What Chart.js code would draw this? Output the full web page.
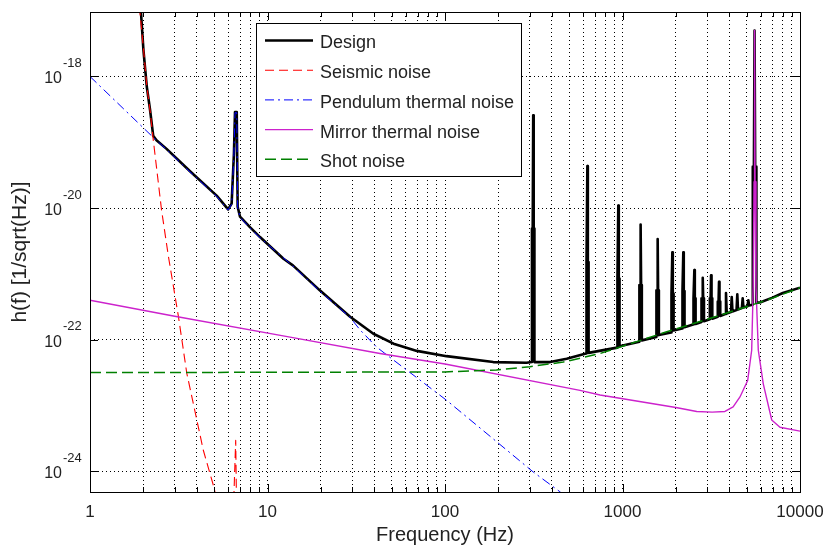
<!DOCTYPE html>
<html>
<head>
<meta charset="utf-8">
<script src="https://cdn.jsdelivr.net/npm/chart.js@4.4.1/dist/chart.umd.min.js"></script>
<style>
  html, body { margin: 0; padding: 0; background: #ffffff; }
  #wrap { width: 826px; height: 550px; }
</style>
</head>
<body>
<div id="wrap"><canvas id="c" width="826" height="550"></canvas></div>
<script>
// ---------------- data (frequency in Hz, value given as exponent of 10 for h(f) in 1/sqrt(Hz)) ----------------
const seriesLabels = ['Design', 'Seismic noise', 'Pendulum thermal noise', 'Mirror thermal noise', 'Shot noise'];

const designFreq = [
  1.85, 1.94, 2.0, 2.09, 2.18, 2.27, 2.37, 2.7, 3.66, 5.17,
  6.0, 6.28, 6.47, 6.56, 6.71, 6.79, 7.0, 7.96, 9.07, 12.3,
  13.9, 19.7, 29.2, 39.5, 51.3, 69.4, 102, 187, 288,
  309, 309, 312, 314, 316, 319, 319,
  391, 485, 601,
  624, 624, 630, 634, 638, 644, 644,
  932, 932, 941, 947, 953, 962, 962,
  1245, 1245, 1257, 1265, 1273, 1285, 1285,
  1553, 1553, 1569, 1578, 1587, 1603, 1603,
  1878, 1878, 1898, 1909, 1920, 1940, 1940,
  2166, 2166, 2188, 2201, 2214, 2236, 2236,
  2499, 2499, 2525, 2540, 2555, 2581, 2581,
  2787, 2787, 2815, 2832, 2849, 2877, 2877,
  3105, 3105, 3136, 3155, 3174, 3205, 3205,
  3442, 3442, 3477, 3498, 3519, 3554, 3554,
  3790, 3829, 3865,
  4085, 4124, 4165,
  4390, 4434, 4475,
  4705, 4754, 4800,
  5065, 5117, 5165,
  5420, 5420, 5500, 5546, 5590, 5680, 5680,
  6000, 7000, 8000, 10000
];
const designExp = [
  -16.6, -17.05, -17.6, -18.16, -18.51, -18.9, -18.97, -19.1, -19.44, -19.81,
  -20.02, -19.93, -19.17, -18.54, -18.54, -19.98, -20.13, -20.29, -20.44, -20.77,
  -20.87, -21.25, -21.65, -21.91, -22.06, -22.17, -22.25, -22.34, -22.35,
  -22.34, -20.31, -20.31, -18.59, -20.31, -20.31, -22.34,
  -22.34, -22.29, -22.22,
  -22.21, -20.82, -20.82, -19.36, -20.82, -20.82, -22.2,
  -22.12, -21.07, -21.07, -19.96, -21.07, -21.07, -22.1,
  -22.03, -21.17, -21.17, -20.25, -21.17, -21.17, -22.01,
  -21.96, -21.25, -21.25, -20.47, -21.25, -21.25, -21.93,
  -21.89, -21.3, -21.3, -20.67, -21.3, -21.3, -21.86,
  -21.83, -21.26, -21.26, -20.67, -21.26, -21.26, -21.81,
  -21.77, -21.37, -21.37, -20.94, -21.37, -21.37, -21.76,
  -21.73, -21.37, -21.37, -21.06, -21.37, -21.37, -21.72,
  -21.69, -21.37, -21.37, -21.02, -21.37, -21.37, -21.68,
  -21.65, -21.42, -21.42, -21.12, -21.42, -21.42, -21.64,
  -21.61, -21.29, -21.6,
  -21.58, -21.35, -21.57,
  -21.55, -21.31, -21.54,
  -21.52, -21.37, -21.51,
  -21.49, -21.4, -21.48,
  -21.47, -19.37, -19.37, -17.3, -19.37, -19.37, -21.44,
  -21.43, -21.36, -21.29, -21.21
];

const seismicFreq = [1.85, 1.91, 2.0, 2.09, 2.18, 2.26, 2.53, 2.76, 3.15, 3.51, 4.35, 5.0, 5.6, 6.3, 6.62, 6.75, 7.5];
const seismicExp  = [-16.3, -17.02, -17.57, -18.15, -18.52, -18.91, -20.03, -20.72, -21.65, -22.51, -23.68, -24.25, -24.9, -25.3, -23.53, -25.3, -26.5];

const pendFreq = [1, 2.26, 2.7, 3.66, 5.17, 6.0, 6.28, 6.47, 6.56, 6.71, 6.79, 7.0, 7.96, 9.07, 13.9, 19.7, 29.2, 33.2, 41.1, 51.3, 72, 102, 314, 444, 600];
const pendExp  = [-18.0, -18.92, -19.11, -19.45, -19.82, -20.03, -19.94, -19.18, -18.55, -18.55, -19.99, -20.14, -20.3, -20.45, -20.88, -21.26, -21.66, -21.85, -22.11, -22.31, -22.61, -22.92, -24.01, -24.31, -24.65];

const mirrorFreq = [1, 2.95, 13.4, 43, 100, 576, 747, 2000, 2619, 3200, 3778, 4200, 4590, 5072, 5343, 5450, 5510, 5546, 5580, 5650, 5822, 6210, 6930, 7710, 10000];
const mirrorExp  = [-21.4, -21.64, -21.96, -22.21, -22.37, -22.77, -22.84, -23.03, -23.09, -23.1, -23.09, -23.02, -22.87, -22.62, -22.16, -21.2, -19.6, -17.3, -19.6, -21.2, -22.16, -22.67, -23.22, -23.33, -23.39];

const shotFreq = [1, 100, 150, 195, 301, 464, 747, 1000, 1774, 3000, 6490, 10000];
const shotExp  = [-22.5, -22.49, -22.47, -22.46, -22.41, -22.34, -22.21, -22.1, -21.88, -21.69, -21.4, -21.21];

// axis ticks
const xGridValues = [1,2,3,4,5,6,7,8,9,10,20,30,40,50,60,70,80,90,100,200,300,400,500,600,700,800,900,1000,2000,3000,4000,5000,6000,7000,8000,9000,10000];
const xLabelValues = [1, 10, 100, 1000, 10000];
const xLabelTexts  = ['1', '10', '100', '1000', '10000'];
const yTickValues  = [1e-24, 1e-22, 1e-20, 1e-18];
const yTickBase    = '10';
const yTickExps    = ['-24', '-22', '-20', '-18'];
const xMin = 1, xMax = 10000, yMin = 4.85e-25, yMax = 9.55e-18;
const xTitle = 'Frequency (Hz)';
const yTitle = 'h(f) [1/sqrt(Hz)]';

// ---------------- chart ----------------
const FONT = "'Liberation Sans', Arial, Helvetica, sans-serif";
const toPts = (fs, es) => fs.map((f, i) => ({ x: f, y: Math.pow(10, es[i]) }));

const styles = [
  { color: '#000000', width: 2.6, dash: [],             order: 5 },
  { color: '#ff0000', width: 1.1, dash: [9, 5],         order: 4 },
  { color: '#0000ff', width: 1.0, dash: [9, 4, 2, 4],   order: 3 },
  { color: '#cc22cc', width: 1.4, dash: [],             order: 2 },
  { color: '#008000', width: 1.5, dash: [11, 5],        order: 1 }
];
const seriesPts = [
  toPts(designFreq, designExp),
  toPts(seismicFreq, seismicExp),
  toPts(pendFreq, pendExp),
  toPts(mirrorFreq, mirrorExp),
  toPts(shotFreq, shotExp)
];

const datasets = seriesLabels.map((lab, i) => ({
  label: lab,
  data: seriesPts[i],
  showLine: true,
  borderColor: styles[i].color,
  backgroundColor: styles[i].color,
  borderWidth: styles[i].width,
  borderDash: styles[i].dash,
  borderJoinStyle: 'round',
  borderCapStyle: 'butt',
  pointRadius: 0,
  pointHoverRadius: 0,
  fill: false,
  tension: 0,
  order: styles[i].order,
  clip: 0
}));

const framePlugin = {
  id: 'frameTicks',
  afterDraw(chart) {
    const { ctx, chartArea: { left, right, top, bottom }, scales: { x, y } } = chart;
    ctx.save();
    ctx.setLineDash([]);
    ctx.strokeStyle = '#000';
    ctx.lineWidth = 1;
    // ticks (inward)
    ctx.beginPath();
    xGridValues.forEach(v => {
      const px = Math.round(x.getPixelForValue(v)) + 0.5;
      const len = xLabelValues.includes(v) ? 8 : 5;
      ctx.moveTo(px, bottom); ctx.lineTo(px, bottom - len);
      ctx.moveTo(px, top); ctx.lineTo(px, top + len);
    });
    yTickValues.forEach(v => {
      const py = Math.round(y.getPixelForValue(v)) + 0.5;
      ctx.moveTo(left, py); ctx.lineTo(left + 8, py);
      ctx.moveTo(right, py); ctx.lineTo(right - 8, py);
    });
    ctx.stroke();
    // box
    ctx.strokeRect(Math.round(left) + 0.5, Math.round(top) + 0.5, Math.round(right - left), Math.round(bottom - top));
    // y tick labels with superscript exponents
    ctx.fillStyle = '#222';
    yTickValues.forEach((v, i) => {
      const py = y.getPixelForValue(v);
      ctx.font = '16px ' + FONT;
      ctx.textAlign = 'right';
      ctx.textBaseline = 'alphabetic';
      ctx.fillText(yTickBase, 62, py + 7);
      ctx.font = '13px ' + FONT;
      ctx.textAlign = 'left';
      ctx.fillText(yTickExps[i], 63, py - 9.5);
    });
    // legend box
    const bx = 256.5, by = 23.5, bw = 265, bh = 153;
    ctx.fillStyle = '#fff';
    ctx.fillRect(bx, by, bw, bh);
    ctx.strokeStyle = '#000';
    ctx.lineWidth = 1;
    ctx.strokeRect(bx, by, bw, bh);
    chart.data.datasets.forEach((ds, i) => {
      const ry = 43.5 + i * 29.7;
      ctx.beginPath();
      ctx.strokeStyle = ds.borderColor;
      ctx.lineWidth = ds.borderWidth;
      ctx.setLineDash(ds.borderDash || []);
      ctx.moveTo(265, ry - 3);
      ctx.lineTo(313, ry - 3);
      ctx.stroke();
      ctx.setLineDash([]);
      ctx.fillStyle = '#222';
      ctx.font = '18px ' + FONT;
      ctx.textAlign = 'left';
      ctx.textBaseline = 'middle';
      ctx.fillText(ds.label, 320, ry);
    });
    ctx.restore();
  }
};

new Chart(document.getElementById('c'), {
  type: 'scatter',
  data: { datasets },
  options: {
    responsive: false,
    animation: false,
    events: [],
    layout: { padding: { top: 12, right: 26, left: 0, bottom: 0 } },
    plugins: { legend: { display: false }, tooltip: { enabled: false } },
    scales: {
      x: {
        type: 'logarithmic',
        position: 'bottom',
        min: xMin, max: xMax,
        afterBuildTicks: s => { s.ticks = xGridValues.map(v => ({ value: v })); },
        afterFit: s => { s.height = 58; s.paddingLeft = 0; s.paddingRight = 0; },
        ticks: {
          autoSkip: false, maxRotation: 0, minRotation: 0, padding: 10,
          color: '#222', font: { family: FONT, size: 17 },
          callback: v => { const k = xLabelValues.indexOf(v); return k >= 0 ? xLabelTexts[k] : ''; }
        },
        grid: { color: '#000', lineWidth: 1, drawTicks: false },
        border: { display: false, dash: [1, 3] },
        title: { display: true, text: xTitle, color: '#222', font: { family: FONT, size: 20 }, padding: { top: 0, bottom: 3 } }
      },
      y: {
        type: 'logarithmic',
        position: 'left',
        min: yMin, max: yMax,
        afterBuildTicks: s => { s.ticks = yTickValues.map(v => ({ value: v })); },
        afterFit: s => { s.width = 90; s.paddingTop = 0; s.paddingBottom = 0; },
        ticks: { display: false },
        grid: { color: '#000', lineWidth: 1, drawTicks: false },
        border: { display: false, dash: [1, 3] },
        title: { display: true, text: yTitle, color: '#222', font: { family: FONT, size: 21 }, padding: { top: 8, bottom: 0 } }
      }
    }
  },
  plugins: [framePlugin]
});
</script>
</body>
</html>
